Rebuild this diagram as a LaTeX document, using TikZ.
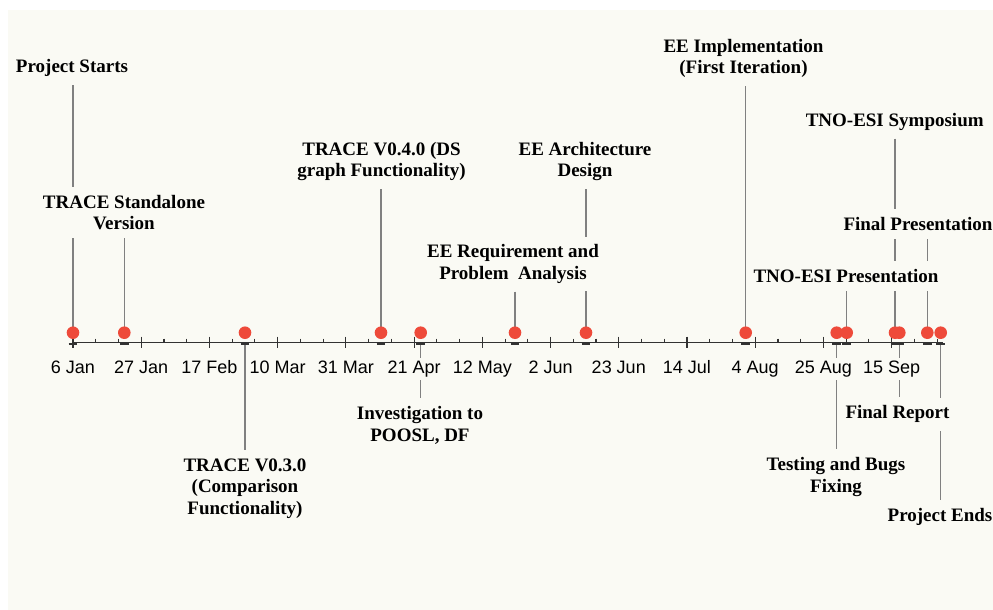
\documentclass[tikz,border=0pt]{standalone}
\usepackage{fontspec}
\setmainfont{Liberation Serif}
\newfontfamily\axisfont{Liberation Sans}
\pgfdeclarelayer{paperlayer}
\pgfdeclarelayer{leaderlayer}
\pgfsetlayers{paperlayer,leaderlayer,main}
\definecolor{paper}{RGB}{250,250,244}
\definecolor{dotred}{RGB}{238,74,58}
\definecolor{leadergray}{RGB}{128,128,128}
\definecolor{axisgray}{RGB}{50,50,50}
\begin{document}
\begin{tikzpicture}[x=1pt,y=-1pt,
  event/.style={font=\fontsize{19}{21.5}\selectfont\bfseries, align=center,
    fill=paper, inner xsep=2pt, inner ysep=8pt},
  datelbl/.style={font=\axisfont\fontsize{18}{20}\selectfont, fill=paper,
    inner sep=2.5pt, anchor=base},
  leader/.style={draw=leadergray, line width=1.3pt},
  axisline/.style={draw=axisgray, line width=1.3pt},
  tickline/.style={draw=axisgray, line width=1.1pt},
  capbar/.style={draw=axisgray, line width=2pt},
  dot/.style={circle, fill=dotred, minimum size=12.6pt, inner sep=0pt}]

% page and paper
\useasboundingbox (0,0) rectangle (993,610);
\begin{pgfonlayer}{paperlayer}
  \fill[white] (0,0) rectangle (993,610);
  \fill[paper] (8,10) rectangle (993,610);
\end{pgfonlayer}

% time axis with weekly ticks, labelled every three weeks
\coordinate (axL) at (73,342.5);
\coordinate (axR) at (943.3,342.5);
\draw[axisline] (axL) -- (axR);
\foreach \i in {0,...,38}{
  \pgfmathsetmacro{\tx}{73+\i*22.74}
  \draw[tickline] (\tx,338.5) -- (\tx,342.5);
}
\foreach \i/\lab in {0/6 Jan,1/27 Jan,2/17 Feb,3/10 Mar,4/31 Mar,5/21 Apr,
  6/12 May,7/2 Jun,8/23 Jun,9/14 Jul,10/4 Aug,11/25 Aug,12/15 Sep}{
  \pgfmathsetmacro{\tx}{73+\i*68.22}
  \draw[tickline] (\tx,336.7) -- (\tx,348.3);
  \node[datelbl] (date-\i) at (\tx,373.5) {\lab};
}

% milestones: cap under the axis and the dot above it
\foreach \n/\x in {ps/73,ts/124.3,t3/245,t4/381,in/420.7,er/515,ea/586,
  ei/745.7,tb/836.7,tp/846.7,sy/895,fr/899.3,fp/927.3,pe/940.7}{
  \coordinate (a-\n) at (\x,342.5);
  \draw[capbar] (\x-4.3,343.8) -- (\x+4.3,343.8);
  \node[dot] (d-\n) at (\x,332.7) {};
}

% labels above the axis
\node[event] (l-ps) at (72,68) {Project Starts};
\node[event] (l-ts) at (124,212.5) {TRACE Standalone\\Version};
\node[event] (l-t4) at (381.5,161.3) {TRACE V0.4.0 (DS\\graph Functionality)};
\node[event] (l-ea) at (585,161.3) {EE Architecture\\Design};
\node[event] (l-er) at (513,264) {EE Requirement and\\Problem\ \ Analysis};
\node[event] (l-ei) at (743.5,58.3) {EE Implementation\\(First Iteration)};
\node[event] (l-sy) at (894.7,121.7) {TNO-ESI Symposium};
\node[event] (l-fp) at (918,224) {Final Presentation};
\node[event] (l-tp) at (846,276) {TNO-ESI Presentation};

% labels below the axis
\node[event] (l-t3) at (245,488.3) {TRACE V0.3.0\\(Comparison\\Functionality)};
\node[event] (l-in) at (420,425.5) {Investigation to\\POOSL, DF};
\node[event] (l-tb) at (836,477) {Testing and Bugs\\Fixing};
\node[event] (l-fr) at (897.5,414.3) {Final Report};
\node[event] (l-pe) at (940,516.7) {Project Ends};

% leader lines, kept behind labels and dots
\begin{pgfonlayer}{leaderlayer}
  \foreach \n in {ps,ts,t4,ea,er,ei,sy,fp,tp}{
    \draw[leader] (l-\n.south -| d-\n) -- (d-\n.center);
  }
  \foreach \n in {t3,in,tb,fr,pe}{
    \draw[leader] (a-\n) -- (l-\n.north -| a-\n);
  }
\end{pgfonlayer}
\end{tikzpicture}
\end{document}
